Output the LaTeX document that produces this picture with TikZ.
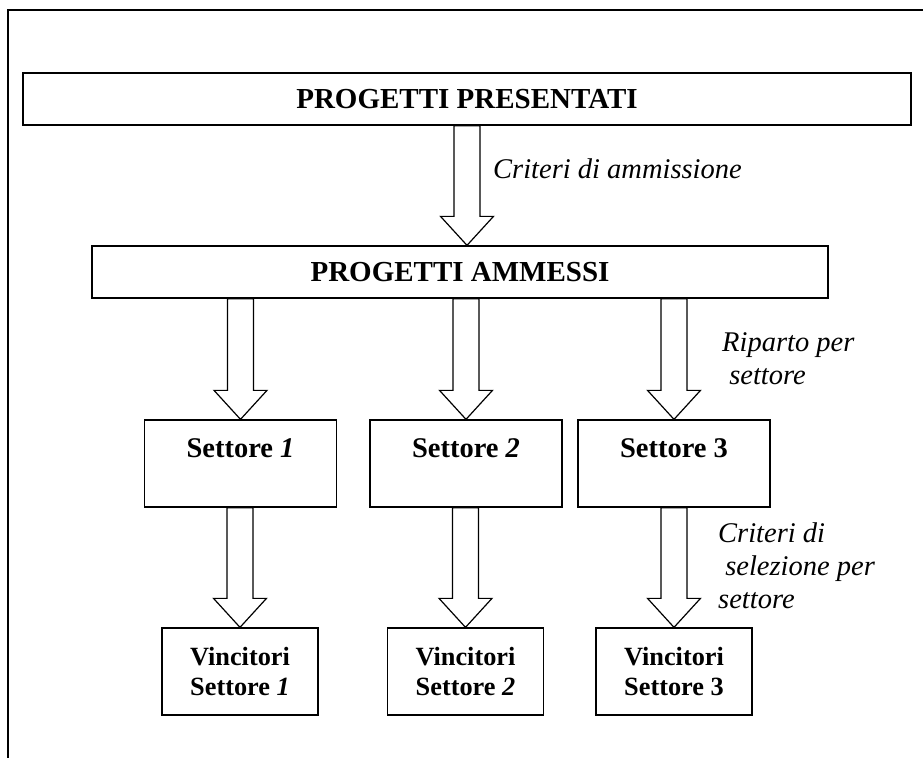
\documentclass[tikz,border=0pt]{standalone}
\usepackage{fontspec}
\setmainfont{Liberation Serif}
\usetikzlibrary{calc}

\tikzset{
  titlebox/.style={draw, line width=1.3pt, inner sep=0pt, minimum height=52pt, font=\fontsize{29}{34}\selectfont\bfseries},
  sectorbox/.style={draw, line width=1.3pt, inner sep=0pt, minimum width=192pt, text height=37pt, text depth=50pt, font=\fontsize{28.5}{34}\selectfont\bfseries},
  winnerbox/.style={draw, line width=1.3pt, inner sep=0pt, minimum width=156pt, minimum height=87pt, align=center, font=\fontsize{26.3}{30}\selectfont\bfseries},
  notelabel/.style={anchor=base west, inner sep=0pt, align=left, font=\fontsize{28.5}{33}\selectfont\itshape},
  bigarrow/.style={draw, line width=1.2pt, line join=miter, fill=white}
}

% hollow block arrow from the y of #1 down to the point #2
\newcommand{\blockarrow}[2]{%
  \draw[bigarrow] let \p1=(#1), \p2=(#2) in
    (\x2-13pt,\y1) -- (\x2-13pt,\y2+29pt) -- (\x2-26.5pt,\y2+29pt) -- (\x2,\y2)
    -- (\x2+26.5pt,\y2+29pt) -- (\x2+13pt,\y2+29pt) -- (\x2+13pt,\y1) -- cycle;}

\begin{document}
\begin{tikzpicture}[x=1pt,y=-1pt]
\useasboundingbox (0,0) rectangle (923,758);
% Frame
\draw[line width=2.2pt] (923,10) -- (8,10) -- (8,758);
% Top boxes
\node[titlebox, minimum width=888pt] (pres) at (467,99) {PROGETTI PRESENTATI};
\node[titlebox, minimum width=736pt] (amm) at (460,272) {PROGETTI AMMESSI};
% Sector boxes
\node[sectorbox] (sec1) at (240.5,463.5) {Settore \textit{1}};
\node[sectorbox] (sec2) at (466,463.5) {Settore \textit{2}};
\node[sectorbox] (sec3) at (674,463.5) {Settore 3};
% Winner boxes
\node[winnerbox] (win1) at (240,671.5) {Vincitori\\Settore \textit{1}};
\node[winnerbox] (win2) at (465.5,671.5) {Vincitori\\Settore \textit{2}};
\node[winnerbox] (win3) at (674,671.5) {Vincitori\\Settore 3};
% Arrows
\blockarrow{pres.south}{amm.north -| pres.south}
\blockarrow{amm.south}{sec1.north}
\blockarrow{amm.south}{sec2.north}
\blockarrow{amm.south}{sec3.north}
\blockarrow{sec1.south}{win1.north}
\blockarrow{sec2.south}{win2.north}
\blockarrow{sec3.south}{win3.north}
% Labels (base = last line)
\node[notelabel] (lab1) at (493,178) {Criteri di ammissione};
\node[notelabel] (lab2) at (722,384) {Riparto per\\\ settore};
\node[notelabel] (lab3) at (718,608) {Criteri di\\\ selezione per\\settore};
\end{tikzpicture}
\end{document}
